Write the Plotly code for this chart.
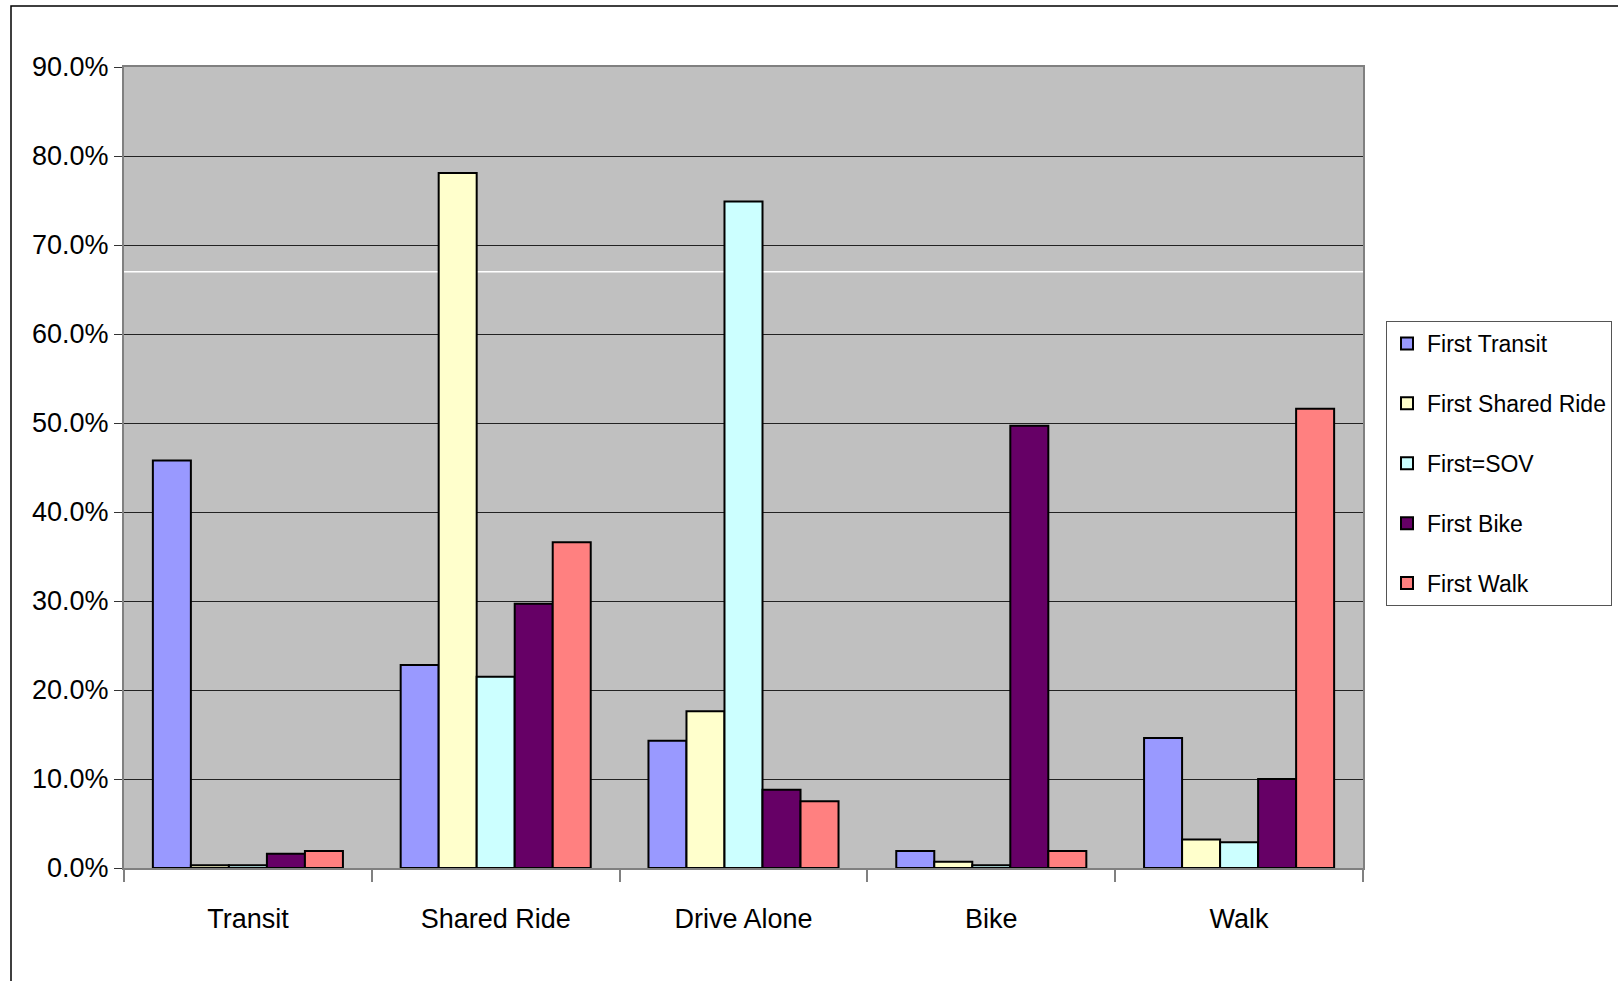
import plotly.graph_objects as go

# Travel mode categories (x axis) and the first-mode series (share, %)
categories = ["Transit", "Shared Ride", "Drive Alone", "Bike", "Walk"]
series_names = ["First Transit", "First Shared Ride", "First=SOV", "First Bike", "First Walk"]

first_transit = [45.8, 22.8, 14.3, 1.9, 14.6]
first_shared_ride = [0.3, 78.1, 17.6, 0.7, 3.2]
first_sov = [0.3, 21.5, 74.9, 0.3, 2.9]
first_bike = [1.6, 29.7, 8.8, 49.7, 10.0]
first_walk = [1.9, 36.6, 7.5, 1.9, 51.6]

series_values = [first_transit, first_shared_ride, first_sov, first_bike, first_walk]
series_colors = ["#9999FF", "#FFFFCC", "#CCFFFF", "#660066", "#FF8080"]

y_ticks = [0, 10, 20, 30, 40, 50, 60, 70, 80, 90]

FONT = "Liberation Sans Narrow, Arial Narrow, Liberation Sans, Arial, sans-serif"
FS = 27
LEGEND_FS = 23

fig = go.Figure()
for name, vals, col in zip(series_names, series_values, series_colors):
    fig.add_trace(go.Bar(
        x=categories, y=vals, name=name, legendgroup=name,
        marker=dict(color=col, line=dict(color="black", width=2)),
    ))

W, H = 1618, 981
L, R, T, B = 124, 255, 67, 113
pw, ph = W - L - R, H - T - B

def px_x(p):
    return (p - L) / pw

def px_y(p):
    return (H - B - p) / ph

fig.update_layout(
    width=W, height=H,
    margin=dict(l=L, r=R, t=T, b=B, pad=0, autoexpand=False),
    paper_bgcolor="white",
    plot_bgcolor="#C0C0C0",
    barmode="group",
    bargap=0.233,
    bargroupgap=0,
    font=dict(family=FONT, size=FS, color="black"),
    showlegend=True,
    legend=dict(
        xref="container", yref="container",
        x=1386 / W, y=1 - 321 / H, xanchor="left", yanchor="top",
        bgcolor="white", bordercolor="#555555", borderwidth=1,
        font=dict(family=FONT, size=LEGEND_FS, color="black"),
        tracegroupgap=27,
        itemwidth=30,
    ),
    xaxis=dict(
        type="category",
        showgrid=False,
        showline=True, linecolor="#808080", linewidth=2, mirror=True,
        ticks="outside", tickson="boundaries", ticklen=12, tickcolor="#808080", tickwidth=2,
        ticklabelstandoff=26,
        tickfont=dict(family=FONT, size=FS, color="black"),
    ),
    yaxis=dict(
        range=[0, 90],
        tickvals=y_ticks,
        ticktext=[f"{v:.1f}%" for v in y_ticks],
        showgrid=True, gridcolor="#222222", gridwidth=1,
        zeroline=False,
        showline=True, linecolor="#808080", linewidth=2, mirror=True,
        ticks="outside", ticklen=8, tickcolor="#333333", tickwidth=1,
        tickfont=dict(family=FONT, size=FS, color="black"),
    ),
    shapes=[
        # thin white rule across the plot area
        dict(type="line", xref="paper", yref="y", x0=0, x1=1, y0=67, y1=67,
             line=dict(color="white", width=1.5), layer="below"),
        # outer chart frame
        dict(type="rect", xref="paper", yref="paper",
             x0=px_x(11), x1=px_x(W + 5), y0=px_y(H + 5), y1=px_y(6),
             line=dict(color="black", width=1.5), fillcolor="rgba(0,0,0,0)"),
    ],
)

fig.write_html("out.html")
